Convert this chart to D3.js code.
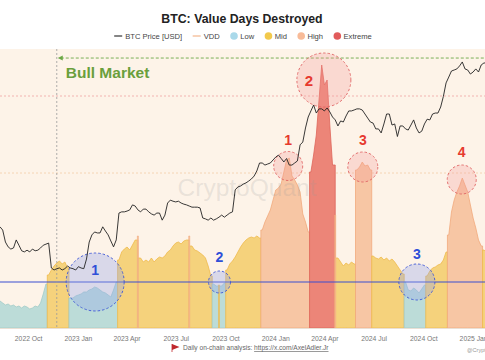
<!DOCTYPE html>
<html><head><meta charset="utf-8">
<script src="https://cdn.jsdelivr.net/npm/d3@7"></script>
<style>
body{margin:0;background:#fff;}
svg{display:block;font-family:"Liberation Sans",Arial,Helvetica,sans-serif;}
</style>
</head><body>
<svg id="chart" width="485" height="360"></svg>
<script>
// ---------------- DATA ----------------
const seriesStart = "2022-08-10";   // first sample, one sample every 5 days
const stepDays = 5;
const domainEnd = "2025-01-23";

// BTC price, thousands of USD
const priceK = [
 24.0,23.3,20.9,20.0,19.6,19.8,21.3,20.3,19.3,19.1,
 19.4,19.1,19.6,19.3,19.4,19.8,20.3,20.5,20.7,16.5,
 16.2,16.4,16.5,16.2,16.4,16.8,16.5,16.4,16.2,16.7,
 16.5,16.4,17.9,20.9,22.3,22.9,22.7,22.7,24.0,23.1,
 22.3,21.1,20.0,21.3,27.2,27.5,27.5,27.7,28.0,29.3,
 29.0,28.0,27.5,28.2,28.2,27.5,27.0,26.7,27.2,27.2,
 25.5,26.7,29.8,30.6,30.3,30.1,30.3,29.8,29.5,29.3,
 29.0,28.7,28.7,28.7,28.5,26.0,25.8,25.5,26.0,25.5,
 25.8,26.2,26.7,26.2,26.7,27.2,27.5,33.6,34.5,34.8,
 35.4,35.8,36.4,37.1,38.1,39.9,42.9,42.9,42.1,42.5,
 42.9,44.1,45.3,46.1,44.7,43.3,44.7,42.1,42.1,42.9,
 43.7,50.6,51.9,59.0,65.2,68.9,72.7,67.6,70.2,70.2,
 68.9,70.8,68.3,65.2,63.5,60.1,62.9,62.3,65.8,68.9,
 68.9,69.5,70.2,70.2,69.5,67.0,64.6,62.3,61.7,58.5,
 58.5,56.4,61.2,67.0,67.0,60.6,61.2,54.6,60.1,60.1,
 58.5,57.9,60.6,63.5,59.0,56.4,57.3,61.2,63.9,63.5,
 67.0,67.6,67.6,71.4,78.6,88.9,93.8,99.1,100.0,101.0,
 103.8,107.6,101.0,100.0,96.4,98.2,101.0,98.2,104.7,106.6,106.6
];

// Value Days Destroyed (relative units)
const vdd = [
 0.27,0.25,0.23,0.24,0.22,0.23,0.21,0.22,0.20,0.22,
 0.21,0.19,0.20,0.22,0.21,0.25,0.34,0.44,0.53,0.58,
 0.62,0.65,0.67,0.64,0.66,0.60,0.30,0.30,0.32,0.33,
 0.34,0.36,0.36,0.38,0.39,0.41,0.40,0.38,0.36,0.35,
 0.33,0.31,0.38,0.46,0.68,0.76,0.79,0.81,0.78,0.83,
 0.88,0.92,0.70,0.66,0.68,0.66,0.70,0.66,0.69,0.71,
 0.70,0.72,0.76,0.78,0.82,0.85,0.86,0.84,0.87,0.88,
 0.92,0.82,0.78,0.77,0.75,0.73,0.70,0.62,0.52,0.44,
 0.42,0.43,0.42,0.45,0.58,0.64,0.67,0.71,0.76,0.81,
 0.85,0.88,0.90,0.91,0.90,0.92,0.90,0.98,1.06,1.12,
 1.18,1.28,1.38,1.40,1.44,1.56,1.68,1.70,1.52,1.48,
 1.43,1.36,1.14,1.06,0.96,1.56,1.73,1.93,2.28,2.63,
 2.43,2.48,2.03,1.63,1.13,0.70,0.66,0.62,0.65,0.63,
 0.66,0.64,1.58,1.61,1.66,1.62,1.63,1.58,0.72,0.70,
 0.69,0.71,0.68,0.70,0.67,0.69,0.66,0.62,0.58,0.54,
 0.46,0.38,0.37,0.40,0.38,0.35,0.39,0.43,0.52,0.57,
 0.60,0.61,0.63,0.64,0.68,0.76,0.93,1.16,1.28,1.36,
 1.42,1.50,1.43,1.36,1.23,1.10,1.00,0.88,0.82,0.78,0.76
];

// regime runs: index where each run starts, and its regime
const regimeFrom = [0,18,26,44,51,52,70,71,79,81,82,84,97,115,124,125,132,138,150,158,166,179];
const regimeType = ["Low","Mid","Low","Mid","High","Mid","High","Mid","Low","Mid","Low","Mid",
                    "High","Extreme","High","Mid","High","Mid","Low","Mid","High","Mid"];

const legendLabels = ["BTC Price [USD]","VDD","Low","Mid","High","Extreme"];
const thresholdLow = 0.46, thresholdHigh = 1.55, thresholdExtreme = 2.32;

const bullStart = "2022-11-23";
const bullLevelK = 111.5;

const lowLabels = ["1","2","3"];
const lowDates  = ["2023-02-02","2023-09-20","2024-09-19"];
const highLabels = ["1","2","3","4"];
const highDates  = ["2024-01-25","2024-03-31","2024-06-11","2024-12-11"];
const highVdd    = [1.62,2.48,1.61,1.485];

// ---------------- LAYOUT / STYLE ----------------
const W = 485, H = 360;
const plotTop = 49, plotBottom = 328;
const lowRadius = [29,11,18], lowLabelDy = [-7,-20,-23], lowLabelDx=[0,0,0];
const highRadius = [14.5,27,15,14.5], highLabelDy=[-21,6,-22,-22.5], highLabelDx=[0,-15,0,0];
const fillC = {Low:"#bcdcd8", Mid:"#f5d27c", High:"#f7c6a4", Extreme:"#ec8578"};
const edgeC = {Low:"#a2cbc8", Mid:"#efba4c", High:"#f1aa7c", Extreme:"#de665b"};
const legendC = {Low:"#a9d9ea", Mid:"#f2c94c", High:"#f8bb98", Extreme:"#e15b5b"};

const parse = d3.timeParse("%Y-%m-%d");
const t0 = parse(seriesStart);
const dateAt = i => d3.timeDay.offset(t0, i*stepDays);

const x = d3.scaleTime().domain([t0, parse(domainEnd)]).range([0, W]);
const yP = d3.scaleLog().domain([9.557, 119.97]).range([plotBottom, 50]);
const yV = d3.scaleLinear().domain([0, 2.78]).range([plotBottom, 50]);

const svg = d3.select("#chart");

// background
svg.append("rect").attr("x",0).attr("y",plotTop).attr("width",W).attr("height",plotBottom-plotTop)
  .attr("fill","#fdf3e8");

// threshold dotted lines
svg.append("line").attr("x1",0).attr("x2",W).attr("y1",yV(thresholdHigh)).attr("y2",yV(thresholdHigh))
  .attr("stroke","#f3cba6").attr("stroke-width",0.8).attr("stroke-dasharray","2,2");
svg.append("line").attr("x1",0).attr("x2",W).attr("y1",yV(thresholdExtreme)).attr("y2",yV(thresholdExtreme))
  .attr("stroke","#efa2a2").attr("stroke-width",0.8).attr("stroke-dasharray","2,2");

// VDD areas by regime
const area = d3.area().x(p=>x(p.d)).y0(yV(0)).y1(p=>yV(p.v));
const gA = svg.append("g");
const runs = regimeFrom.map((a,k)=>({a, b:(k+1<regimeFrom.length ? regimeFrom[k+1] : vdd.length)-1, t:regimeType[k]}));
const runLen = r => r.b - r.a + 1;
function drawRun(r, k){
  const single = runLen(r)===1;
  const prevSingle = k>0 && runLen(runs[k-1])===1;
  const nextSingle = k<runs.length-1 && runLen(runs[k+1])===1;
  const padL = single ? 22 : (prevSingle ? 120 : 60);
  const padR = single ? 22 : (nextSingle ? 120 : 60);
  const pts = [];
  pts.push({d: d3.timeHour.offset(dateAt(r.a), -padL), v: prevSingle ? vdd[r.a] : vdd[r.a]});
  for(let i=r.a;i<=r.b;i++) pts.push({d: dateAt(i), v: vdd[i]});
  pts.push({d: d3.timeHour.offset(dateAt(r.b), padR), v: vdd[r.b]});
  gA.append("path").attr("d", area(pts)).attr("fill", fillC[r.t])
    .attr("stroke", edgeC[r.t]).attr("stroke-width", single?0.6:0.8).attr("stroke-linejoin","round");
}
runs.forEach((r,k)=>{ if(runLen(r)>1 || k===0) drawRun(r,k); });
runs.forEach((r,k)=>{ if(runLen(r)===1 && k!==0) drawRun(r,k); });

// watermark
svg.append("text").attr("x",247).attr("y",196).attr("text-anchor","middle")
  .attr("font-size",24.5).attr("fill","#9a9a9a").attr("fill-opacity",0.2).text("CryptoQuant");

// low threshold line
svg.append("line").attr("x1",0).attr("x2",W).attr("y1",yV(thresholdLow)).attr("y2",yV(thresholdLow))
  .attr("stroke","#3a4fd0").attr("stroke-width",1.2);

// bull market marker
const xb = x(parse(bullStart));
svg.append("line").attr("x1",xb).attr("x2",xb).attr("y1",plotTop).attr("y2",plotBottom)
  .attr("stroke","#9a9a9a").attr("stroke-width",0.8).attr("stroke-dasharray","2,2");
const yb = yP(bullLevelK);
svg.append("line").attr("x1",xb+4).attr("x2",W).attr("y1",yb).attr("y2",yb)
  .attr("stroke","#6aa845").attr("stroke-width",0.9).attr("stroke-dasharray","3,2");
svg.append("path").attr("d",`M${xb+1},${yb} L${xb+6},${yb-2.5} L${xb+6},${yb+2.5} Z`).attr("fill","#6aa845");
svg.append("text").attr("x",xb+9).attr("y",yb+20).attr("font-size",15.5).attr("font-weight","bold")
  .attr("fill","#6a9f3c").text("Bull Market");

// circles
lowDates.forEach((d,k)=>{
  const cx = x(parse(d)), cy = yV(thresholdLow);
  svg.append("circle").attr("cx",cx).attr("cy",cy).attr("r",lowRadius[k])
    .attr("fill","rgba(150,165,235,0.35)").attr("stroke","#3c55d6").attr("stroke-width",0.9).attr("stroke-dasharray","2.5,2");
});
highDates.forEach((d,k)=>{
  const cx = x(parse(d)), cy = yV(highVdd[k]);
  svg.append("circle").attr("cx",cx).attr("cy",cy).attr("r",highRadius[k])
    .attr("fill","rgba(245,150,150,0.28)").attr("stroke","#e06565").attr("stroke-width",0.9).attr("stroke-dasharray","2.5,2");
});

// price line
const line = d3.line().x((v,i)=>x(dateAt(i))).y(v=>yP(v));
svg.append("path").attr("d", line(priceK)).attr("fill","none").attr("stroke","#222").attr("stroke-width",0.9)
  .attr("stroke-linejoin","round");

// circle labels
lowDates.forEach((d,k)=>{
  svg.append("text").attr("x",x(parse(d))+lowLabelDx[k]).attr("y",yV(thresholdLow)+lowLabelDy[k])
    .attr("text-anchor","middle").attr("font-size",14).attr("font-weight","bold").attr("fill","#2f4fd8").text(lowLabels[k]);
});
highDates.forEach((d,k)=>{
  svg.append("text").attr("x",x(parse(d))+highLabelDx[k]).attr("y",yV(highVdd[k])+highLabelDy[k])
    .attr("text-anchor","middle").attr("font-size",k===1?15:14).attr("font-weight","bold").attr("fill","#e63a2e").text(highLabels[k]);
});

// bottom border
svg.append("line").attr("x1",0).attr("x2",W).attr("y1",plotBottom+0.5).attr("y2",plotBottom+0.5)
  .attr("stroke","#e9dfd4").attr("stroke-width",1);

// x axis
const ax = svg.append("g").attr("transform",`translate(0,${plotBottom})`)
  .call(d3.axisBottom(x).ticks(d3.timeMonth.every(3)).tickFormat(d3.timeFormat("%Y %b")).tickSize(0).tickPadding(8));
ax.select(".domain").remove();
ax.selectAll("text").attr("font-size",6.8).attr("fill","#777").attr("font-family","Liberation Sans, Arial, sans-serif");

// title
svg.append("text").attr("x",242).attr("y",23).attr("text-anchor","middle").attr("font-size",12.3)
  .attr("font-weight","bold").attr("fill","#222").text("BTC: Value Days Destroyed");

// legend
const lg = svg.append("g");
let cur = 0;
legendLabels.forEach((lab,k)=>{
  const g = lg.append("g").attr("transform",`translate(${cur},0)`);
  let sw;
  if(k===0){ g.append("line").attr("x1",0).attr("x2",8).attr("y1",0).attr("y2",0).attr("stroke","#333").attr("stroke-width",1.2); sw=11; }
  else if(k===1){ g.append("line").attr("x1",0).attr("x2",8).attr("y1",0).attr("y2",0).attr("stroke","#f3b58c").attr("stroke-width",1.2); sw=11; }
  else { g.append("circle").attr("cx",3.8).attr("cy",0).attr("r",3.8).attr("fill",legendC[lab]); sw=10; }
  const t = g.append("text").attr("x",sw).attr("y",2.7).attr("font-size",7.6).attr("fill","#444").text(lab);
  cur += sw + t.node().getComputedTextLength() + 10.5;
});
const lw = cur - 10.5;
lg.attr("transform",`translate(${243 - lw/2},36)`);

// footer
svg.append("path").attr("d","M172,344 L179.5,347 L172,350 Z").attr("fill","#c0282d");
svg.append("line").attr("x1",172).attr("x2",172).attr("y1",344).attr("y2",352).attr("stroke","#c0282d").attr("stroke-width",0.8);
const ft = svg.append("text").attr("x",183).attr("y",350).attr("font-size",6.6).attr("fill","#666");
ft.append("tspan").text("Daily on-chain analysis: ");
ft.append("tspan").attr("text-decoration","underline").text("https://x.com/AxelAdler.Jr");
svg.append("text").attr("x",467).attr("y",352).attr("font-size",5.5).attr("fill","#999").text("@CryptoQuant");
</script>
</body></html>
